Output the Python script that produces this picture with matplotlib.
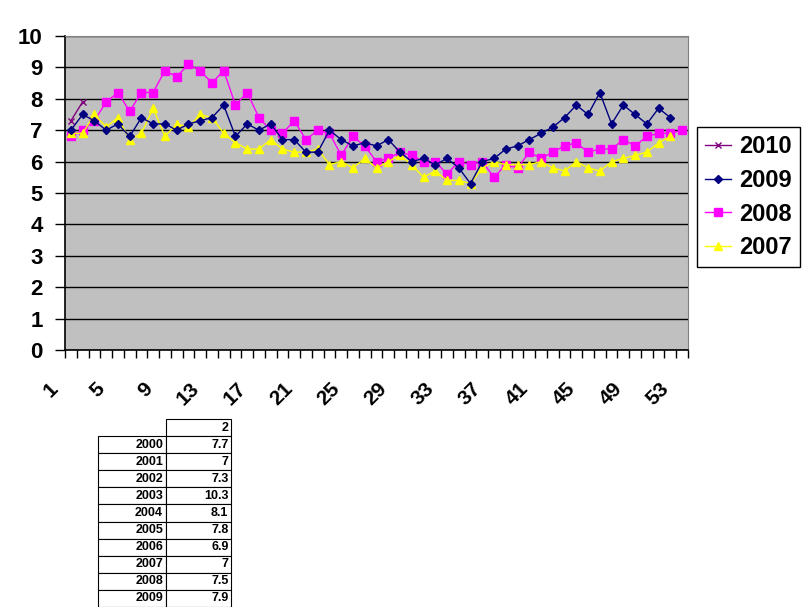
import numpy as np
import matplotlib
matplotlib.use("Agg")
import matplotlib.pyplot as plt
import matplotlib.transforms as mtransforms

plt.rcParams['font.family'] = ['Liberation Sans', 'DejaVu Sans']

# weekly values, one list per year (week 1..53)
weeks = np.arange(1, 54)

y2010 = [7.3, 7.9]

y2009 = [7.0, 7.5, 7.3, 7.0, 7.2, 6.8, 7.4, 7.2, 7.2, 7.0,
         7.2, 7.3, 7.4, 7.8, 6.8, 7.2, 7.0, 7.2, 6.7, 6.7,
         6.3, 6.3, 7.0, 6.7, 6.5, 6.6, 6.5, 6.7, 6.3, 6.0,
         6.1, 5.9, 6.1, 5.8, 5.3, 6.0, 6.1, 6.4, 6.5, 6.7,
         6.9, 7.1, 7.4, 7.8, 7.5, 8.2, 7.2, 7.8, 7.5, 7.2,
         7.7, 7.4]

y2008 = [6.8, 7.0, 7.3, 7.9, 8.2, 7.6, 8.2, 8.2, 8.9, 8.7,
         9.1, 8.9, 8.5, 8.9, 7.8, 8.2, 7.4, 7.0, 6.9, 7.3,
         6.7, 7.0, 6.9, 6.2, 6.8, 6.5, 6.0, 6.1, 6.3, 6.2,
         6.0, 6.0, 5.6, 6.0, 5.9, 6.0, 5.5, 5.9, 5.8, 6.3,
         6.1, 6.3, 6.5, 6.6, 6.3, 6.4, 6.4, 6.7, 6.5, 6.8,
         6.9, 6.9, 7.0]

y2007 = [6.9, 6.9, 7.5, 7.1, 7.4, 6.7, 6.9, 7.7, 6.8, 7.2,
         7.1, 7.5, 7.4, 6.9, 6.6, 6.4, 6.4, 6.7, 6.4, 6.3,
         6.3, 6.4, 5.9, 6.0, 5.8, 6.1, 5.8, 6.0, 6.2, 5.9,
         5.5, 5.7, 5.4, 5.4, 5.3, 5.8, 6.0, 5.9, 5.9, 5.9,
         6.0, 5.8, 5.7, 6.0, 5.8, 5.7, 6.0, 6.1, 6.2, 6.3,
         6.6, 6.8]

# little table under the chart
table_header = '2'
table_years = ['2000', '2001', '2002', '2003', '2004',
               '2005', '2006', '2007', '2008', '2009']
table_vals = ['7.7', '7', '7.3', '10.3', '8.1',
              '7.8', '6.9', '7', '7.5', '7.9']

W, H = 812, 607
fig = plt.figure(figsize=(W / 100, H / 100), dpi=100)
fig.patch.set_facecolor('white')

# plot area in pixels: left 65, right 688, top 36, bottom 350
ax = fig.add_axes([65 / W, 1 - 350 / H, 623 / W, 314 / H])
ax.set_facecolor('#C0C0C0')

ax.plot(weeks[:len(y2007)], y2007, color='#FFFF00', lw=1, marker='^',
        ms=6, mec='#FFFF00', label='2007', zorder=3)
ax.plot(weeks[:len(y2008)], y2008, color='#FF00FF', lw=1, marker='s',
        ms=5.5, mec='#FF00FF', label='2008', zorder=2)
ax.plot(weeks[:len(y2009)], y2009, color='#000080', lw=1, marker='D',
        ms=4.5, mec='#000080', label='2009', zorder=4)
ax.plot(weeks[:len(y2010)], y2010, color='#800080', lw=1, marker='x',
        ms=5, mew=1, label='2010', zorder=5)

ax.set_xlim(0.5, 53.5)
ax.set_ylim(0, 10)
ax.set_yticks(range(0, 11))
ax.yaxis.grid(True, color='black', lw=1)
ax.set_axisbelow(True)

ax.set_xticks(np.arange(1, 54, 4))
ax.set_xticks(np.arange(0.5, 54, 1), minor=True)
ax.tick_params(axis='x', which='major', length=0, pad=21)
ax.tick_params(axis='x', which='minor', length=6, width=1, direction='out')
ax.tick_params(axis='y', length=7, width=1, direction='out', pad=9,
               labelsize=16)
for lab in ax.get_yticklabels():
    lab.set_fontweight('bold')
for lab in ax.get_xticklabels():
    lab.set_rotation(45)
    lab.set_ha('right')
    lab.set_va('top')
    lab.set_fontsize(15)
    lab.set_fontweight('bold')
    lab.set_transform(lab.get_transform() +
                      mtransforms.ScaledTranslation(-9 / 100, 0, fig.dpi_scale_trans))

for s in ['top', 'right']:
    ax.spines[s].set_color('#808080')
    ax.spines[s].set_linewidth(0.8)
for s in ['left', 'bottom']:
    ax.spines[s].set_color('black')
    ax.spines[s].set_linewidth(1.2)

# legend, newest year first
h, l = ax.get_legend_handles_labels()
order = [3, 2, 1, 0]
leg = ax.legend([h[i] for i in order], [l[i] for i in order],
                loc='upper left', bbox_to_anchor=(697 / W, 1 - 127 / H),
                bbox_transform=fig.transFigure, fancybox=False,
                framealpha=1, edgecolor='black', fontsize=17,
                handlelength=1.1, handletextpad=0.35, labelspacing=0.45,
                borderpad=0.35, borderaxespad=0)
leg.get_frame().set_linewidth(1)
for t in leg.get_texts():
    t.set_fontweight('bold')

# table
tax = fig.add_axes([98 / W, 0, 133 / W, (607 - 419) / H])
tax.axis('off')
cells = [['', table_header]] + [[y, v] for y, v in zip(table_years, table_vals)]
tbl = tax.table(cellText=cells, colWidths=[0.51, 0.49], bbox=[0, 0, 1, 1],
                cellLoc='right')
tbl.auto_set_font_size(False)
for (r, c), cell in tbl.get_celld().items():
    cell.set_linewidth(0.8)
    cell.get_text().set_fontsize(9)
    cell.get_text().set_fontweight('bold')
    cell.PAD = 0.04
    if r == 0 and c == 0:
        cell.visible_edges = ''

fig.savefig('out.png', dpi=100)
